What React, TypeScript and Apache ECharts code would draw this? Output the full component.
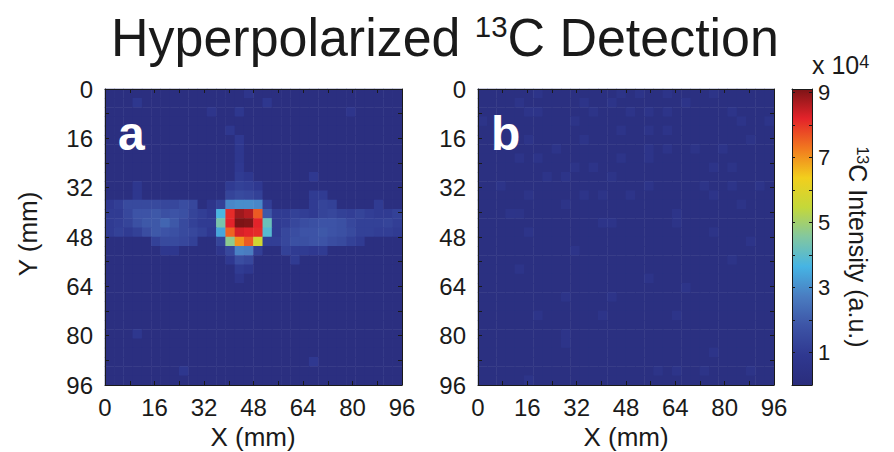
import React, { useEffect, useRef } from "react";
import * as echarts from "echarts";

// ---------- data (intensity in units of 10^4) ----------
const GRID_SIZE = 32; // 32 x 32 voxels, 3 mm each
const AXIS_TICK_LABELS = [0, 16, 32, 48, 64, 80, 96];
const COLORBAR_LABELS = [1, 3, 5, 7, 9];
const COLORBAR_TICKS = [1, 2, 3, 4, 5, 6, 7, 8, 9];
const INTENSITY_MIN = 0;
const INTENSITY_MAX = 9.1;

const BACKGROUND_A = 0.2;
const BACKGROUND_B = 0.22;

// [column, row, intensity]
const PANEL_A_CELLS: [number, number, number][] = [
  // scattered noise
  [15, 0, 0.7], [3, 1, 0.8], [17, 1, 0.8], [11, 2, 0.7], [14, 2, 0.8], [26, 2, 0.7],
  [13, 4, 0.8], [14, 5, 0.9], [14, 6, 0.8], [14, 7, 0.8], [14, 8, 0.9], [22, 9, 0.9],
  [3, 26, 0.8], [22, 29, 0.9], [8, 30, 0.8],
  // above hot spot
  [3, 10, 0.8], [13, 10, 1.0], [14, 10, 1.2], [15, 10, 1.1], [16, 10, 0.9],
  [14, 9, 1.0], [15, 9, 0.8],
  [3, 11, 0.8], [13, 11, 1.3], [14, 11, 1.5], [15, 11, 1.4], [16, 11, 1.2], [22, 11, 1.0], [23, 11, 1.0],
  // row 12
  [0, 12, 0.9], [1, 12, 1.1], [2, 12, 1.5], [3, 12, 1.5], [4, 12, 1.5], [5, 12, 1.5], [6, 12, 1.4],
  [7, 12, 1.4], [8, 12, 1.6], [9, 12, 1.4], [11, 12, 0.7], [12, 12, 1.2], [13, 12, 2.9], [14, 12, 3.0],
  [15, 12, 3.0], [16, 12, 2.9], [17, 12, 1.1], [22, 12, 1.0], [23, 12, 1.3], [24, 12, 1.2], [29, 12, 1.0],
  // row 13
  [0, 13, 1.0], [1, 13, 1.0], [2, 13, 1.4], [3, 13, 1.8], [4, 13, 1.8], [5, 13, 1.9], [6, 13, 1.7],
  [7, 13, 1.8], [8, 13, 1.7], [9, 13, 1.3], [10, 13, 1.1], [11, 13, 0.9], [12, 13, 3.7], [13, 13, 8.1],
  [14, 13, 8.8], [15, 13, 8.6], [16, 13, 7.6], [17, 13, 1.9], [18, 13, 1.0], [19, 13, 1.0], [20, 13, 1.2],
  [21, 13, 1.1], [22, 13, 1.0], [23, 13, 1.3], [24, 13, 1.4], [25, 13, 1.2], [26, 13, 1.1], [27, 13, 1.3],
  [28, 13, 1.1], [29, 13, 1.0], [30, 13, 1.0], [31, 13, 1.2],
  // row 14
  [0, 14, 1.0], [1, 14, 1.1], [2, 14, 1.3], [3, 14, 1.7], [4, 14, 1.9], [5, 14, 1.9], [6, 14, 2.2],
  [7, 14, 1.9], [8, 14, 1.5], [9, 14, 1.2], [10, 14, 1.0], [11, 14, 1.0], [12, 14, 4.4], [13, 14, 8.2],
  [14, 14, 9.1], [15, 14, 9.05], [16, 14, 8.2], [17, 14, 4.2], [18, 14, 1.0], [19, 14, 1.1], [20, 14, 1.4],
  [21, 14, 1.6], [22, 14, 1.7], [23, 14, 1.8], [24, 14, 1.8], [25, 14, 1.7], [26, 14, 1.4], [27, 14, 1.2],
  [28, 14, 1.2], [29, 14, 1.2], [30, 14, 1.3], [31, 14, 1.1],
  // row 15
  [0, 15, 1.0], [1, 15, 1.2], [2, 15, 1.0], [3, 15, 1.2], [4, 15, 1.6], [5, 15, 1.9], [6, 15, 1.8],
  [7, 15, 1.7], [8, 15, 1.5], [9, 15, 1.4], [10, 15, 1.2], [11, 15, 0.9], [12, 15, 3.4], [13, 15, 7.5],
  [14, 15, 8.3], [15, 15, 8.2], [16, 15, 8.1], [17, 15, 3.9], [18, 15, 1.0], [19, 15, 1.4], [20, 15, 1.6],
  [21, 15, 1.8], [22, 15, 1.8], [23, 15, 1.9], [24, 15, 1.8], [25, 15, 1.7], [26, 15, 1.5], [27, 15, 1.2],
  [28, 15, 1.2], [29, 15, 1.1], [30, 15, 1.1], [31, 15, 1.0],
  // row 16
  [5, 16, 1.2], [6, 16, 1.5], [7, 16, 1.5], [8, 16, 1.4], [9, 16, 1.2], [12, 16, 1.3], [13, 16, 4.7],
  [14, 16, 7.0], [15, 16, 7.6], [16, 16, 5.7], [17, 16, 1.1], [18, 16, 1.1], [19, 16, 1.4], [20, 16, 1.7],
  [21, 16, 1.7], [22, 16, 1.8], [23, 16, 1.8], [24, 16, 1.6], [25, 16, 1.5], [26, 16, 1.2], [27, 16, 1.0],
  // below hot spot
  [6, 17, 0.8], [7, 17, 0.8], [12, 17, 0.7], [13, 17, 1.4], [14, 17, 2.8], [15, 17, 2.7], [16, 17, 1.1],
  [19, 17, 1.2], [20, 17, 1.0], [21, 17, 1.0], [22, 17, 0.9], [23, 17, 1.0],
  [13, 18, 0.9], [14, 18, 1.6], [15, 18, 1.4], [20, 18, 1.0],
  [14, 19, 1.0], [15, 19, 0.8], [14, 20, 0.7],
];

const PANEL_B_CELLS: [number, number, number][] = [
  [6, 0, 0.6], [15, 0, 0.55], [17, 0, 0.6], [20, 0, 0.6], [25, 0, 0.55],
  [4, 1, 0.6], [11, 1, 0.6], [14, 1, 0.6], [22, 1, 0.6],
  [5, 2, 0.6], [6, 2, 0.6], [12, 2, 0.55], [16, 2, 0.6], [18, 2, 0.6], [20, 2, 0.6], [27, 2, 0.6],
  [0, 3, 0.6], [10, 3, 0.55], [28, 3, 0.6], [31, 3, 0.6],
  [15, 4, 0.6], [18, 4, 0.6], [20, 4, 0.6],
  [5, 5, 0.6], [11, 5, 0.6], [29, 5, 0.55],
  [8, 6, 0.6], [18, 6, 0.6], [20, 6, 0.6], [23, 6, 0.55], [26, 6, 0.6],
  [4, 7, 0.6], [6, 7, 0.6], [15, 7, 0.6], [18, 7, 0.6],
  [10, 8, 0.55], [12, 8, 0.6], [25, 8, 0.6], [27, 8, 0.55],
  [7, 9, 0.6], [9, 9, 0.6], [14, 9, 0.55],
  [2, 10, 0.6], [18, 10, 0.6], [24, 10, 0.55], [27, 10, 0.6], [30, 10, 0.6],
  [5, 11, 0.55], [11, 11, 0.6], [13, 11, 0.55], [16, 11, 0.6], [25, 11, 0.6],
  [9, 12, 0.55], [28, 12, 0.55],
  [3, 13, 0.6], [4, 13, 0.55], [21, 13, 0.6],
  [13, 14, 0.6], [14, 14, 0.6], [21, 14, 0.55],
  [5, 15, 0.6], [25, 15, 0.55],
  [29, 16, 0.6], [10, 17, 0.6], [27, 18, 0.55], [4, 19, 0.6], [18, 20, 0.6], [22, 21, 0.6],
  [9, 22, 0.6], [14, 22, 0.6], [6, 24, 0.6], [13, 24, 0.6], [21, 24, 0.6],
  [9, 26, 0.6], [9, 27, 0.6], [25, 28, 0.6],
  [19, 30, 0.55], [21, 30, 0.6], [24, 30, 0.55], [29, 30, 0.55], [5, 31, 0.6],
];

// printed "jet" colour map
const JET_COLORS = [
  "#2a2d7c", "#2f3890", "#3d54a6", "#4a7dc1", "#46b4e4", "#82c7a0",
  "#c4d83a", "#f2cf1d", "#f1781f", "#e4232a", "#7c1416",
];

const FONT = "Liberation Sans, Arial, Helvetica, sans-serif";
const INK = "#1a1a1a";

function buildGrid(background: number, cells: [number, number, number][]) {
  const lookup = new Map<string, number>();
  cells.forEach(([c, r, v]) => lookup.set(c + "," + r, v));
  const out: [number, number, number][] = [];
  for (let r = 0; r < GRID_SIZE; r++) {
    for (let c = 0; c < GRID_SIZE; c++) {
      const v = lookup.get(c + "," + r);
      out.push([c, r, v === undefined ? background : v]);
    }
  }
  return out;
}

const CATEGORIES = Array.from({ length: GRID_SIZE }, (_, i) => String(i));

export default function App() {
  const ref = useRef<HTMLDivElement>(null);

  useEffect(() => {
    if (!ref.current) return;
    const chart = echarts.init(ref.current, undefined, { renderer: "svg" });

    const panels = [
      { left: 105, top: 89, width: 297, height: 296 },
      { left: 478, top: 89, width: 296, height: 296 },
    ];
    const colorbar = { left: 792, top: 89, width: 20, height: 296 };

    const frameCommon = {
      type: "value" as const,
      min: 0,
      max: 96,
      interval: 8,
      z: 10,
      splitLine: { show: false },
      axisLine: { show: true, onZero: false, lineStyle: { color: INK, width: 1 } },
      axisTick: { show: true, inside: true, length: 4, lineStyle: { color: INK, width: 1 } },
    };
    const tickLabel = {
      show: true,
      fontSize: 24,
      fontFamily: FONT,
      color: INK,
      showMinLabel: true,
      showMaxLabel: true,
      formatter: (v: number) => (AXIS_TICK_LABELS.includes(v) ? String(v) : ""),
    };

    const grids: any[] = [
      { ...panels[0] },
      { ...panels[1] },
      { ...panels[0] },
      { ...panels[1] },
      { ...colorbar },
    ];

    const xAxes: any[] = [
      { type: "category", gridIndex: 0, data: CATEGORIES, show: false },
      { type: "category", gridIndex: 1, data: CATEGORIES, show: false },
      { ...frameCommon, gridIndex: 2, position: "bottom", axisLabel: { ...tickLabel, margin: 10 } },
      { ...frameCommon, gridIndex: 2, position: "top", axisLabel: { show: false } },
      { ...frameCommon, gridIndex: 3, position: "bottom", axisLabel: { ...tickLabel, margin: 10 } },
      { ...frameCommon, gridIndex: 3, position: "top", axisLabel: { show: false } },
      {
        type: "value", gridIndex: 4, position: "bottom", min: 0, max: 1, z: 10,
        axisLine: { show: true, onZero: false, lineStyle: { color: INK } },
        axisTick: { show: false }, axisLabel: { show: false }, splitLine: { show: false },
      },
      {
        type: "value", gridIndex: 4, position: "top", min: 0, max: 1, z: 10,
        axisLine: { show: true, onZero: false, lineStyle: { color: INK } },
        axisTick: { show: false }, axisLabel: { show: false }, splitLine: { show: false },
      },
    ];

    const yAxes: any[] = [
      { type: "category", gridIndex: 0, data: CATEGORIES, inverse: true, show: false },
      { type: "category", gridIndex: 1, data: CATEGORIES, inverse: true, show: false },
      { ...frameCommon, gridIndex: 2, position: "left", inverse: true, axisLabel: { ...tickLabel, margin: 12 } },
      { ...frameCommon, gridIndex: 2, position: "right", inverse: true, axisLabel: { show: false } },
      { ...frameCommon, gridIndex: 3, position: "left", inverse: true, axisLabel: { ...tickLabel, margin: 12 } },
      { ...frameCommon, gridIndex: 3, position: "right", inverse: true, axisLabel: { show: false } },
      {
        type: "value", gridIndex: 4, position: "left", min: INTENSITY_MIN, max: INTENSITY_MAX, z: 10,
        axisLine: { show: true, onZero: false, lineStyle: { color: INK } },
        axisTick: { show: true, inside: true, length: 3, customValues: COLORBAR_TICKS, lineStyle: { color: INK } },
        axisLabel: { show: false }, splitLine: { show: false },
      },
      {
        type: "value", gridIndex: 4, position: "right", min: INTENSITY_MIN, max: INTENSITY_MAX, z: 10,
        axisLine: { show: true, onZero: false, lineStyle: { color: INK } },
        axisTick: { show: true, inside: true, length: 3, customValues: COLORBAR_TICKS, lineStyle: { color: INK } },
        axisLabel: {
          show: true, customValues: COLORBAR_LABELS, fontSize: 22, fontFamily: FONT, color: INK, margin: 6,
        },
        splitLine: { show: false },
      },
    ];

    const gradient = new echarts.graphic.LinearGradient(
      0, 1, 0, 0,
      JET_COLORS.map((color, i) => ({ offset: i / (JET_COLORS.length - 1), color }))
    );

    const option: any = {
      animation: false,
      backgroundColor: "#ffffff",
      grid: grids,
      xAxis: xAxes,
      yAxis: yAxes,
      visualMap: {
        type: "continuous",
        show: false,
        min: INTENSITY_MIN,
        max: INTENSITY_MAX,
        seriesIndex: [0, 1],
        inRange: { color: JET_COLORS },
      },
      series: [
        {
          type: "heatmap", xAxisIndex: 0, yAxisIndex: 0,
          data: buildGrid(BACKGROUND_A, PANEL_A_CELLS),
          emphasis: { disabled: true }, itemStyle: { borderWidth: 0 },
        },
        {
          type: "heatmap", xAxisIndex: 1, yAxisIndex: 1,
          data: buildGrid(BACKGROUND_B, PANEL_B_CELLS),
          emphasis: { disabled: true }, itemStyle: { borderWidth: 0 },
        },
      ],
      graphic: [
        {
          type: "rect", z: 1,
          shape: { x: colorbar.left, y: colorbar.top, width: colorbar.width, height: colorbar.height },
          style: { fill: gradient },
        },
        {
          type: "text", z: 100, x: 445, y: 38, scaleX: 0.98,
          style: {
            text: "{n|Hyperpolarized }{s|13}{n|C Detection}",
            align: "center", verticalAlign: "middle", fill: INK,
            rich: {
              n: { fontSize: 53, fontFamily: FONT, fill: INK },
              s: { fontSize: 30, fontFamily: FONT, fill: INK, verticalAlign: "top" },
            },
          },
        },
        {
          type: "text", z: 100, x: 812, y: 65,
          style: {
            text: "{n|x 10}{s|4}",
            align: "left", verticalAlign: "middle", fill: INK,
            rich: {
              n: { fontSize: 25, fontFamily: FONT, fill: INK },
              s: { fontSize: 18, fontFamily: FONT, fill: INK, verticalAlign: "top" },
            },
          },
        },
        {
          type: "text", z: 100, x: 858, y: 247, rotation: -Math.PI / 2,
          style: {
            text: "{s|13}{n|C Intensity (a.u.)}",
            align: "center", verticalAlign: "middle", fill: INK,
            rich: {
              n: { fontSize: 25, fontFamily: FONT, fill: INK },
              s: { fontSize: 16, fontFamily: FONT, fill: INK, verticalAlign: "top" },
            },
          },
        },
        {
          type: "text", z: 100, x: 28, y: 234, rotation: Math.PI / 2,
          style: { text: "Y (mm)", align: "center", verticalAlign: "middle", fontSize: 26, fontFamily: FONT, fill: INK },
        },
        {
          type: "text", z: 100, x: 253, y: 437,
          style: { text: "X (mm)", align: "center", verticalAlign: "middle", fontSize: 26, fontFamily: FONT, fill: INK },
        },
        {
          type: "text", z: 100, x: 626, y: 437,
          style: { text: "X (mm)", align: "center", verticalAlign: "middle", fontSize: 26, fontFamily: FONT, fill: INK },
        },
        {
          type: "text", z: 100, x: 118, y: 133,
          style: { text: "a", align: "left", verticalAlign: "middle", fontSize: 48, fontWeight: "bold", fontFamily: FONT, fill: "#ffffff" },
        },
        {
          type: "text", z: 100, x: 491, y: 133,
          style: { text: "b", align: "left", verticalAlign: "middle", fontSize: 48, fontWeight: "bold", fontFamily: FONT, fill: "#ffffff" },
        },
      ],
    };

    chart.setOption(option);
    return () => chart.dispose();
  }, []);

  return (
    <div
      ref={ref}
      style={{ position: "absolute", left: 0, top: 0, width: 894, height: 452, background: "#fff" }}
    />
  );
}
